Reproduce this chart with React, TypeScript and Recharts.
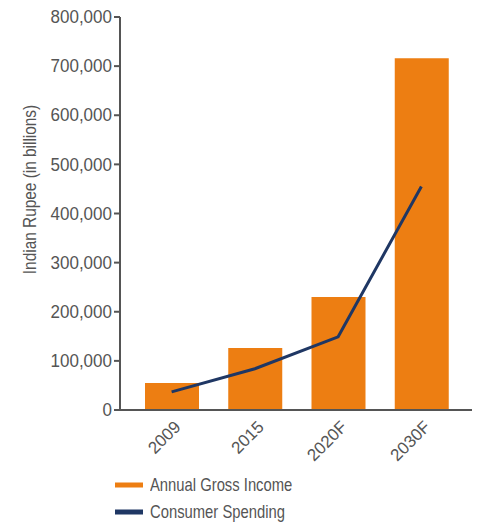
import React from 'react';
import { ComposedChart, Bar, Line, XAxis, YAxis } from 'recharts';

const categories = ['2009', '2015', '2020F', '2030F'];
const annualGrossIncome = [55000, 126000, 230000, 716000];
const consumerSpending = [37000, 84000, 149000, 455000];
const yTicks = [0, 100000, 200000, 300000, 400000, 500000, 600000, 700000, 800000];

const data = categories.map((c, i) => ({
  year: c,
  income: annualGrossIncome[i],
  spending: consumerSpending[i],
}));

const ORANGE = '#ED7E12';
const NAVY = '#1F3764';
const GREY = '#555555';
const FONT = "'Liberation Sans', Arial, sans-serif";

const XTick = (props: any) => {
  const { x, y, payload } = props;
  return (
    <g transform={`translate(${x + 10},${y + 18})`}>
      <text x={0} y={0} transform="rotate(-45)" textAnchor="end" fill={GREY} fontSize={17} fontFamily={FONT}>
        {payload.value}
      </text>
    </g>
  );
};

const YTick = (props: any) => {
  const { x, y, payload } = props;
  return (
    <g transform={`translate(${x},${y})`}>
      <text
        x={0}
        y={0}
        transform="scale(0.92,1)"
        textAnchor="end"
        dominantBaseline="central"
        fill={GREY}
        fontSize={18.5}
        fontFamily={FONT}
      >
        {Number(payload.value).toLocaleString('en-US')}
      </text>
    </g>
  );
};

const YLabel = (props: any) => {
  const vb = props.viewBox || { x: 0, y: 0, width: 0, height: 0 };
  const cx = vb.x + 30;
  const cy = vb.y + vb.height / 2 - 24;
  return (
    <text
      x={cx}
      y={cy}
      transform={`rotate(-90, ${cx}, ${cy}) translate(${cx}, ${cy}) scale(0.88,1) translate(${-cx}, ${-cy})`}
      textAnchor="middle"
      dominantBaseline="central"
      fill={GREY}
      fontSize={17.5}
      fontFamily={FONT}
    >
      Indian Rupee (in billions)
    </text>
  );
};

const legendItems = [
  { label: 'Annual Gross Income', color: ORANGE },
  { label: 'Consumer Spending', color: NAVY },
];

export default function App() {
  return (
    <div style={{ position: 'absolute', left: 0, top: 0, width: 477, height: 525, background: '#fff' }}>
      <ComposedChart
        width={477}
        height={525}
        data={data}
        margin={{ top: 17, right: 5, bottom: 55, left: 0 }}
      >
        <XAxis
          dataKey="year"
          padding={{ left: 10, right: 9 }}
          axisLine={{ stroke: GREY, strokeWidth: 2 }}
          tickLine={false}
          tickSize={0}
          tickMargin={0}
          height={60}
          tick={<XTick />}
          interval={0}
        />
        <YAxis
          width={120}
          domain={[0, 800000]}
          ticks={yTicks}
          interval={0}
          axisLine={{ stroke: GREY, strokeWidth: 2 }}
          tickLine={{ stroke: GREY, strokeWidth: 2 }}
          tickSize={6}
          tickMargin={2}
          tick={<YTick />}
          label={<YLabel />}
        />
        <Bar dataKey="income" fill={ORANGE} barSize={54} isAnimationActive={false} />
        <Line
          dataKey="spending"
          type="linear"
          stroke={NAVY}
          strokeWidth={3}
          dot={false}
          activeDot={false}
          isAnimationActive={false}
        />
      </ComposedChart>
      <div style={{ position: 'absolute', left: 115, top: 471 }}>
        {legendItems.map((it) => (
          <div key={it.label} style={{ display: 'flex', alignItems: 'center', height: 27 }}>
            <svg width={28} height={6} style={{ display: 'block' }}>
              <rect x={0} y={0.5} width={28} height={5} fill={it.color} />
            </svg>
            <span
              style={{
                marginLeft: 7,
                fontFamily: FONT,
                fontSize: 18.5,
                color: GREY,
                lineHeight: '20px',
                display: 'inline-block',
                transform: 'scaleX(0.8)',
                transformOrigin: 'left center',
                whiteSpace: 'nowrap',
              }}
            >
              {it.label}
            </span>
          </div>
        ))}
      </div>
    </div>
  );
}
